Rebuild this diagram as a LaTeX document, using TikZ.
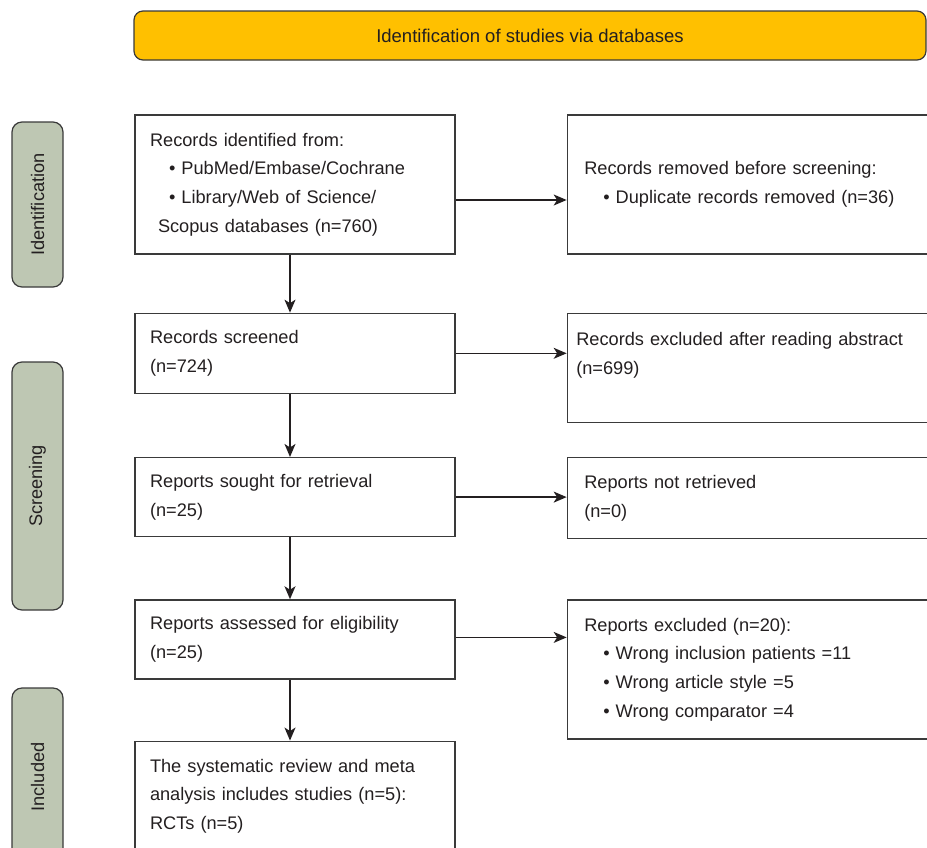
\documentclass[tikz,border=0pt]{standalone}
\usepackage{fontspec}
\setmainfont{Liberation Sans}
\usetikzlibrary{arrows.meta,positioning}
\definecolor{bannergold}{HTML}{FFC000}
\definecolor{stagegray}{HTML}{BEC7B3}
\definecolor{edgegray}{HTML}{3A3A3A}
\definecolor{inkgray}{HTML}{231F20}
\newcommand{\flowfont}{\fontsize{18.2}{28.7}\selectfont}

\begin{document}
\begin{tikzpicture}[x=1pt, y=-1pt,
  box/.style={draw=edgegray, line width=1.3pt, minimum width=320pt, text width=290pt,
    inner xsep=15pt, align=left, font=\flowfont, text=inkgray},
  sidebox/.style={box, minimum width=430pt, text width=396pt, inner xsep=17pt},
  stage/.style={draw=edgegray, line width=1.2pt, fill=stagegray, rounded corners=10pt,
    rotate=90, minimum height=51pt, font=\flowfont, text=inkgray},
  banner/.style={draw=edgegray, line width=1.2pt, fill=bannergold, rounded corners=9pt,
    minimum width=792pt, minimum height=49pt, font=\fontsize{18.5}{22}\selectfont, text=inkgray},
  arr/.style={-{Stealth[length=13pt, width=11pt, inset=3.5pt]}, line width=1.4pt, draw=inkgray}
]
  \useasboundingbox (0,0) rectangle (927,847);
  \clip (0,0) rectangle (927,847);

  \node[banner] (head) at (530,35.5) {Identification of studies via databases};

  \node[stage, minimum width=165pt] (sid) at (37.5,204.5) {Identification};
  \node[stage, minimum width=248pt] (sscr) at (37.5,486) {Screening};
  \node[stage, minimum width=178pt] (sinc) at (37.5,777) {Included};

  % main column
  \node[box, minimum height=139pt] (b1) at (295,184.5)
    {Records identified from:\\
     \hspace*{19pt}• PubMed/Embase/Cochrane\\
     \hspace*{19pt}• Library/Web of Science/\\
     \hspace*{8pt}Scopus databases (n=760)};
  \node[box, minimum height=80pt, below=58pt of b1] (b2) {Records screened\\(n=724)};
  \node[box, minimum height=79pt, below=63pt of b2] (b3) {Reports sought for retrieval\\(n=25)};
  \node[box, minimum height=79pt, below=62pt of b3] (b4) {Reports assessed for eligibility\\(n=25)};
  \node[box, minimum height=110pt, below=61pt of b4] (b5)
    {The systematic review and meta\\analysis includes studies (n=5):\\RCTs (n=5)};

  % side column
  \node[sidebox, minimum height=139pt, right=111pt of b1.north east, anchor=north west] (r1)
    {Records removed before screening:\\
     \hspace*{19pt}• Duplicate records removed (n=36)};
  \node[sidebox, minimum height=109pt, inner xsep=9pt, text width=412pt,
    right=111pt of b2.north east, anchor=north west] (r2)
    {Records excluded after reading abstract\\(n=699)\\\mbox{}};
  \node[sidebox, minimum height=81pt, right=111pt of b3.north east, anchor=north west] (r3)
    {Reports not retrieved\\(n=0)};
  \node[sidebox, minimum height=139pt, right=111pt of b4.north east, anchor=north west] (r4)
    {Reports excluded (n=20):\\
     \hspace*{19pt}• Wrong inclusion patients =11\\
     \hspace*{19pt}• Wrong article style =5\\
     \hspace*{19pt}• Wrong comparator =4};

  \foreach \a/\b in {b1/b2,b2/b3,b3/b4,b4/b5} { \draw[arr] ([xshift=-5pt]\a.south) -- ([xshift=-5pt]\b.north); }

  \draw[arr] ([yshift=-15.5pt]b1.east) -- ([yshift=-15.5pt]b1.east -| r1.west);
  \draw[arr] (b2.east) -- (b2.east -| r2.west);
  \draw[arr] (b3.east) -- (b3.east -| r3.west);
  \draw[arr] ([yshift=2pt]b4.east) -- ([yshift=2pt]b4.east -| r4.west);
\end{tikzpicture}
\end{document}
